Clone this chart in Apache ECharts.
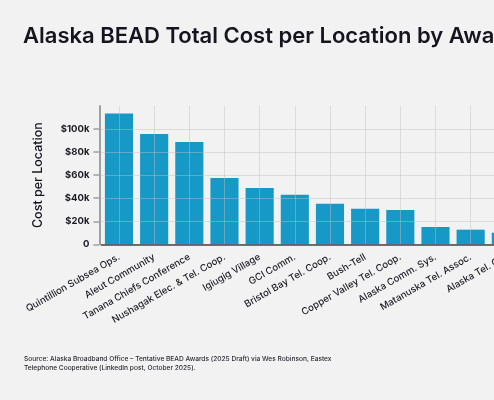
<!DOCTYPE html>
<html>
<head>
<meta charset="utf-8">
<script src="https://cdn.jsdelivr.net/npm/echarts@6/dist/echarts.min.js"></script>
<style>
  html, body { margin: 0; padding: 0; background: #f2f2f2; overflow: hidden; }
  #main { width: 600px; height: 400px; }
</style>
</head>
<body>
<div id="main"></div>
<script>
// awardees, as labelled on the x axis
var categories = [
  "Quintillion Subsea Ops.", "Aleut Community", "Tanana Chiefs Conference",
  "Nushagak Elec. & Tel. Coop.", "Igiugig Village", "GCI Comm.",
  "Bristol Bay Tel. Coop.", "Bush-Tell", "Copper Valley Tel. Coop.",
  "Alaska Comm. Sys.", "Matanuska Tel. Assoc.", "Alaska Tel. Co."
];
// total cost per location (USD)
var costs = [113600, 95700, 88700, 57500, 48800, 43000, 35200, 30900, 29700, 15000, 12700, 10000];
var yTicks = [0, 20000, 40000, 60000, 80000, 100000];

var titleText = "Alaska BEAD Total Cost per Location by Awardee";
var sourceText = "Source: Alaska Broadband Office \u2013 Tentative BEAD Awards (2025 Draft) via Wes Robinson, Eastex\nTelephone Cooperative (LinkedIn post, October 2025).";

var font = "Inter, 'Noto Sans', sans-serif";
var gridColor = "rgba(190,190,190,0.45)";

var myChart = echarts.init(document.getElementById("main"));

var option = {
  backgroundColor: "#f2f2f2",
  animation: false,
  textStyle: { fontFamily: font },
  title: {
    text: titleText,
    left: 18,
    top: 20,
    textStyle: { fontSize: 22, fontWeight: 600, color: "#15151f", fontFamily: font }
  },
  grid: { left: 101.4, right: 76.6, top: 106, bottom: 155.7, containLabel: false },
  xAxis: {
    type: "category",
    data: categories,
    z: 3,
    axisLine: { lineStyle: { color: "#444", width: 1.5 } },
    axisTick: { show: false },
    // vertical grid lines sit on the category centres
    splitLine: { show: true, alignWithLabel: true, lineStyle: { color: gridColor, width: 1 } },
    axisLabel: {
      rotate: 30,
      interval: 0,
      margin: 12,
      fontSize: 9.6,
      fontWeight: 500,
      color: "#1c1c24",
      fontFamily: font
    }
  },
  yAxis: {
    type: "value",
    min: 0,
    max: 120000,
    interval: 20000,
    offset: 2,
    z: 3,
    name: "Cost per Location",
    nameLocation: "middle",
    nameGap: 55,
    nameTextStyle: { fontSize: 12.5, fontWeight: 500, color: "#15151f", fontFamily: font },
    axisLine: { show: true, lineStyle: { color: "#a0a0a0", width: 2 } },
    axisTick: { show: true, length: 6, customValues: yTicks, lineStyle: { color: "#a0a0a0", width: 1.5 } },
    splitLine: {
      show: true,
      lineStyle: { color: [gridColor, gridColor, gridColor, gridColor, gridColor, gridColor, "rgba(0,0,0,0)"] }
    },
    axisLabel: {
      customValues: yTicks,
      margin: 10,
      fontSize: 9.5,
      fontWeight: 700,
      color: "#1c1c24",
      fontFamily: font,
      formatter: function (v) {
        if (v === 0) return "0";
        if (v >= 120000) return "";
        return "$" + (v / 1000) + "k";
      }
    }
  },
  series: [{
    type: "bar",
    data: costs,
    barCategoryGap: "20%",
    itemStyle: { color: "#1699c6" }
  }],
  graphic: [{
    type: "text",
    left: 24,
    top: 355,
    style: {
      text: sourceText,
      font: "500 6.6px " + font,
      fill: "#2a2a33",
      lineHeight: 8.5
    }
  }]
};

myChart.setOption(option);
</script>
</body>
</html>
